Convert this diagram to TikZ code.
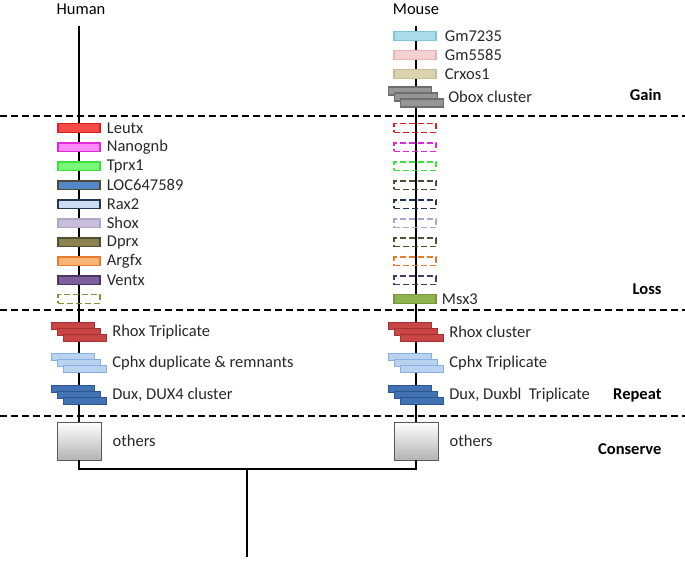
\documentclass[tikz,border=0pt]{standalone}
\usepackage{fontspec}
\setmainfont{Carlito}
\usetikzlibrary{positioning,calc,backgrounds}
\definecolor{leutx-f}{RGB}{245,75,70}     \definecolor{leutx-d}{RGB}{220,30,30}
\definecolor{nanognb-f}{RGB}{255,140,250} \definecolor{nanognb-d}{RGB}{225,40,220}
\definecolor{tprx-f}{RGB}{120,250,120}    \definecolor{tprx-d}{RGB}{60,225,60}
\definecolor{loc-f}{RGB}{85,135,200}      \definecolor{loc-d}{RGB}{75,75,55}
\definecolor{rax-f}{RGB}{205,220,240}     \definecolor{rax-d}{RGB}{35,55,85}
\definecolor{shox-f}{RGB}{200,190,220}    \definecolor{shox-d}{RGB}{175,165,200}
\definecolor{dprx-f}{RGB}{140,130,80}     \definecolor{dprx-d}{RGB}{80,80,50}
\definecolor{argfx-f}{RGB}{250,180,120}   \definecolor{argfx-d}{RGB}{230,125,45}
\definecolor{ventx-f}{RGB}{125,95,160}    \definecolor{ventx-d}{RGB}{75,55,100}
\definecolor{msx-f}{RGB}{145,180,80}      \definecolor{msx-d}{RGB}{120,150,60}
\definecolor{gma-f}{RGB}{170,220,235}     \definecolor{gma-d}{RGB}{130,195,215}
\definecolor{gmb-f}{RGB}{245,210,210}     \definecolor{gmb-d}{RGB}{230,180,180}
\definecolor{crxos-f}{RGB}{220,210,175}   \definecolor{crxos-d}{RGB}{200,190,150}
\definecolor{obox-f}{RGB}{150,150,150}    \definecolor{obox-d}{RGB}{110,110,110}
\definecolor{rhox-f}{RGB}{200,70,70}      \definecolor{rhox-d}{RGB}{165,50,50}
\definecolor{cphx-f}{RGB}{185,210,240}    \definecolor{cphx-d}{RGB}{135,175,225}
\definecolor{dux-f}{RGB}{65,115,180}      \definecolor{dux-d}{RGB}{45,85,145}
\definecolor{textgray}{RGB}{40,40,40}

\begin{document}
\begin{tikzpicture}[x=1pt, y=-1pt,
  gene/.style={draw=#1-d, fill=#1-f, line width=1.4pt, minimum width=42pt, minimum height=8.5pt, inner sep=0pt},
  lost/.style={draw=#1-d, dash pattern=on 6pt off 3pt, line width=1.4pt, minimum width=42pt, minimum height=8.5pt, inner sep=0pt},
  stack/.style={draw=#1-d, fill=#1-f, line width=1.2pt, minimum width=43pt, minimum height=6.5pt, inner sep=0pt},
  keep/.style={draw=black!65, top color=white, bottom color=black!30, line width=0.9pt, minimum width=44pt, minimum height=38pt, inner sep=0pt},
  lbl/.style={inner sep=1pt, text=textgray, font=\fontsize{16.5}{18}\selectfont},
  title/.style={text=black, font=\fontsize{16.5}{18}\selectfont},
  phase/.style={anchor=east, font=\fontsize{16.5}{18}\selectfont\bfseries},
  branch/.style={line width=1.5pt},
  split/.style={line width=1.5pt, dash pattern=on 7pt off 4pt}
]
\useasboundingbox (0,0) rectangle (685,562);

\node[title] (human) at (81,9.5) {Human};
\node[title] (mouse) at (416,9.5) {Mouse};
\coordinate (htop) at (79,26);
\coordinate (mtop) at (416,26);

% gain
\node[gene=gma] (gma) at (415,36) {};
\node[gene=gmb] (gmb) at (415,55) {};
\node[gene=crxos] (crxos) at (415,74) {};
\foreach \k in {-1,0,1}
  \node[stack=obox, minimum height=8pt] (obox\k) at (416+6*\k,97+6*\k) {};
\node[lbl, right=7pt of gma] {Gm7235};
\node[lbl, right=7pt of gmb] {Gm5585};
\node[lbl, right=7pt of crxos] {Crxos1};
\node[lbl, right=9pt of obox0] {Obox cluster};

% loss
\foreach \n/\t [count=\i from 0] in {leutx/Leutx, nanognb/Nanognb, tprx/Tprx1, loc/LOC647589, rax/Rax2, shox/Shox, dprx/Dprx, argfx/Argfx, ventx/Ventx} {
  \node[gene=\n] (h\n) at (79,128+19.05*\i) {};
  \node[lbl, right=5pt of h\n] {\t};
  \node[lost=\n] (m\n) at (415,128+19.05*\i) {};
}
\node[lost=msx] (hmsx) at (79,299) {};
\node[gene=msx] (mmsx) at (415,299) {};
\node[lbl, right=4pt of mmsx] {Msx3};

% repeat
\foreach \c/\y in {rhox/332, cphx/363, dux/395}
  \foreach \k in {-1,0,1} {
    \node[stack=\c] (h\c\k) at (79+6*\k,\y+6*\k) {};
    \node[stack=\c] (m\c\k) at (416+6*\k,\y+6*\k) {};
  }
\node[lbl, right=10pt of hrhox0] {Rhox Triplicate};
\node[lbl, right=10pt of hcphx0] {Cphx duplicate \& remnants};
\node[lbl, right=10pt of hdux0] {Dux, DUX4 cluster};
\node[lbl, right=10pt of mrhox0] {Rhox cluster};
\node[lbl, right=10pt of mcphx0] {Cphx Triplicate};
\node[lbl, right=10pt of mdux0] {Dux, Duxbl\ \ Triplicate};

% conserve
\node[keep] (hkeep) at (79,441) {};
\node[keep] (mkeep) at (416,441) {};
\node[lbl, right=10pt of hkeep] {others};
\node[lbl, right=10pt of mkeep] {others};

\node[phase] (gain) at (665,95) {Gain};
\node[phase] (loss) at (665,289) {Loss};
\node[phase] (repeat) at (665,395) {Repeat};
\node[phase] (conserve) at (665,449) {Conserve};

\coordinate (fork) at (247,469);
\coordinate (root) at (247,557);

\begin{scope}[on background layer]
\draw[branch] (htop) -- (hkeep.north);
\draw[branch] (mtop) -- (mkeep.north);
\end{scope}
\draw[branch] (hkeep.south) |- (fork) -| (mkeep.south);
\draw[branch] (fork) -- (root);

\foreach \y in {116,310,416}
  \draw[split] (0,\y) -- (685,\y);
\end{tikzpicture}
\end{document}
